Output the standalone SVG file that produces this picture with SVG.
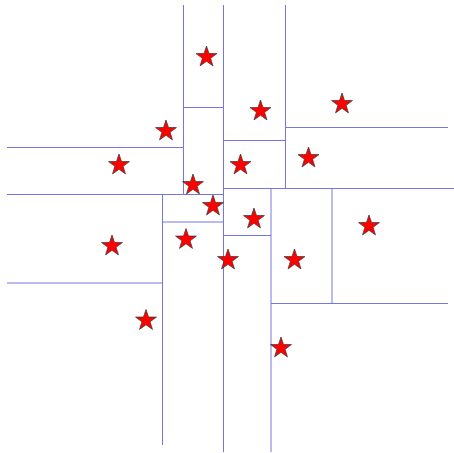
<svg xmlns="http://www.w3.org/2000/svg" xmlns:xlink="http://www.w3.org/1999/xlink" width="454" height="453" viewBox="0 0 454 453">
<style>
.l{stroke:#7676e0;stroke-width:1;fill:none}
.s{fill:#ff0000;stroke:#333;stroke-width:0.7}
</style>
<defs>
<path id="star" class="s" d="M0,-11 L2.5,-3.5 L10.46,-3.4 L4.1,1.33 L6.47,8.9 L0,4.3 L-6.47,8.9 L-4.1,1.33 L-10.46,-3.4 L-2.5,-3.5 Z"/>
</defs>
<rect width="454" height="453" fill="#fff"/>
<g id="lines" class="l">
<line x1="183.5" y1="5" x2="183.5" y2="194.5"/>
<line x1="223.5" y1="5" x2="223.5" y2="452"/>
<line x1="285.5" y1="5" x2="285.5" y2="188.5"/>
<line x1="183.5" y1="107.5" x2="223.5" y2="107.5"/>
<line x1="7" y1="147.5" x2="183.5" y2="147.5"/>
<line x1="223.5" y1="140.5" x2="285.5" y2="140.5"/>
<line x1="285.5" y1="127.5" x2="448" y2="127.5"/>
<line x1="7" y1="194.5" x2="223.5" y2="194.5"/>
<line x1="223.5" y1="188.5" x2="454" y2="188.5"/>
<line x1="162.5" y1="194.5" x2="162.5" y2="445"/>
<line x1="162.5" y1="222" x2="223.5" y2="222"/>
<line x1="7" y1="283" x2="162.5" y2="283"/>
<line x1="271" y1="188.5" x2="271" y2="452"/>
<line x1="332" y1="188.5" x2="332" y2="303.5"/>
<line x1="271" y1="303.5" x2="448" y2="303.5"/>
<line x1="223.5" y1="235.5" x2="271" y2="235.5"/>
</g>
<g id="stars">
<use xlink:href="#star" x="206.5" y="57"/>
<use xlink:href="#star" x="166" y="131"/>
<use xlink:href="#star" x="119" y="165"/>
<use xlink:href="#star" x="193" y="185"/>
<use xlink:href="#star" x="213" y="206"/>
<use xlink:href="#star" x="260.5" y="111"/>
<use xlink:href="#star" x="342" y="104"/>
<use xlink:href="#star" x="240.5" y="165"/>
<use xlink:href="#star" x="308.5" y="158"/>
<use xlink:href="#star" x="254" y="219"/>
<use xlink:href="#star" x="369" y="226"/>
<use xlink:href="#star" x="112" y="246"/>
<use xlink:href="#star" x="186" y="239.5"/>
<use xlink:href="#star" x="228" y="260"/>
<use xlink:href="#star" x="146" y="320.5"/>
<use xlink:href="#star" x="294.5" y="260"/>
<use xlink:href="#star" x="281" y="348"/>
</g>
</svg>
